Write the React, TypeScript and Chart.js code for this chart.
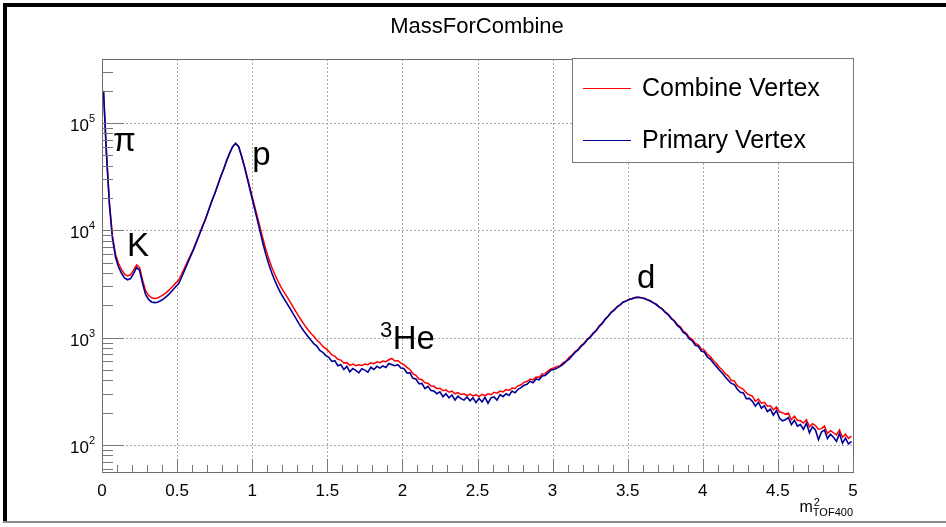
import React, { useEffect, useRef } from "react";
import { Chart, registerables } from "chart.js";

Chart.register(...registerables);

// ---------------- DATA ----------------
const BIN_WIDTH = 0.02; // bins from 0 to 5, values at bin centres
const X_MIN = 0;
const X_MAX = 5;
const Y_MIN = 56;
const Y_MAX = 394600;

const chartTitle = "MassForCombine";
const seriesNames = ["Combine Vertex", "Primary Vertex"];
const seriesColors = ["#ff0000", "#000099"];

// counts per 0.02 bin, m^2 from 0 to 5
const combineVertex = [
  196000, 52000, 17500, 8800, 6000, 4900, 4300, 3900, 3750, 3850,
  4250, 4750, 4500, 3450, 2750, 2480, 2350, 2320, 2340, 2420,
  2520, 2640, 2800, 3000, 3220, 3420, 3900, 4470, 5130, 5890,
  6760, 7940, 9330, 11000, 12900, 15500, 18600, 21900, 26300, 31600,
  37200, 44700, 52500, 60300, 64600, 60300, 49000, 38900, 30200, 23400,
  18200, 14100, 11000, 8500, 6700, 5450, 4550, 3900, 3400, 2990,
  2680, 2420, 2190, 1960, 1760, 1580, 1430, 1300, 1190, 1100,
  1030, 950, 895, 828, 790, 745, 690, 672, 628, 618,
  580, 585, 552, 566, 548, 560, 550, 568, 560, 582,
  572, 595, 584, 606, 598, 622, 640, 605, 612, 578,
  560, 528, 505, 462, 445, 412, 405, 380, 376, 355,
  352, 335, 338, 320, 326, 310, 318, 300, 308, 295,
  300, 288, 298, 286, 294, 282, 296, 288, 300, 294,
  310, 304, 318, 312, 328, 322, 340, 336, 356, 364,
  385, 390, 412, 404, 430, 428, 458, 462, 490, 515,
  522, 540, 548, 585, 605, 655, 688, 742, 780, 845,
  890, 965, 1020, 1105, 1170, 1285, 1365, 1495, 1590, 1730,
  1815, 1950, 2030, 2150, 2200, 2280, 2315, 2370, 2380, 2360,
  2330, 2260, 2210, 2120, 2050, 1940, 1860, 1735, 1650, 1525,
  1445, 1325, 1260, 1150, 1100, 1005, 965, 885, 858, 785,
  765, 700, 668, 612, 578, 530, 500, 462, 438, 400,
  395, 355, 342, 330, 305, 292, 285, 255, 268, 245,
  250, 230, 232, 212, 226, 204, 200, 194, 198, 172,
  185, 170, 168, 160, 172, 148, 158, 152, 140, 142,
  150, 128, 136, 130, 124, 138, 118, 126, 115, 121,
];

const primaryVertex = [
  200000, 50000, 17000, 8300, 5600, 4550, 3980, 3600, 3460, 3550,
  3950, 4500, 4250, 3200, 2530, 2270, 2150, 2120, 2140, 2210,
  2300, 2420, 2570, 2760, 2980, 3180, 3650, 4250, 4950, 5750,
  6650, 7850, 9250, 10900, 12800, 15400, 18500, 21800, 26200, 31500,
  37100, 44600, 52400, 60200, 64500, 60100, 48500, 38200, 29300, 22400,
  17200, 13200, 10100, 7700, 6000, 4850, 4020, 3420, 2960, 2600,
  2330, 2100, 1890, 1690, 1520, 1360, 1230, 1120, 1030, 950,
  880, 835, 760, 730, 680, 655, 600, 610, 548, 560,
  505, 540, 480, 515, 495, 470, 512, 498, 478, 530,
  505, 540, 520, 545, 528, 575, 560, 548, 560, 520,
  515, 470, 470, 418, 412, 372, 375, 335, 352, 322,
  318, 300, 312, 282, 300, 275, 292, 262, 285, 270,
  262, 280, 258, 275, 248, 272, 252, 278, 245, 275,
  280, 262, 295, 282, 300, 290, 318, 306, 330, 342,
  360, 368, 392, 380, 412, 405, 440, 445, 470, 500,
  505, 520, 540, 565, 600, 630, 680, 728, 770, 830,
  880, 950, 1010, 1090, 1160, 1270, 1350, 1480, 1580, 1715,
  1800, 1935, 2020, 2140, 2190, 2270, 2305, 2360, 2375, 2350,
  2320, 2250, 2195, 2110, 2035, 1925, 1845, 1720, 1630, 1505,
  1425, 1300, 1235, 1120, 1075, 975, 935, 850, 830, 750,
  735, 660, 630, 580, 540, 500, 465, 430, 400, 375,
  365, 330, 310, 305, 270, 272, 255, 230, 250, 220,
  232, 205, 215, 190, 210, 178, 168, 172, 180, 155,
  170, 150, 155, 140, 160, 130, 148, 138, 112, 132,
  138, 115, 126, 118, 108, 128, 104, 116, 102, 108,
];

const xMajorTicks = [0, 0.5, 1, 1.5, 2, 2.5, 3, 3.5, 4, 4.5, 5];
const xTickLabels = ["0", "0.5", "1", "1.5", "2", "2.5", "3", "3.5", "4", "4.5", "5"];
const yDecades = [2, 3, 4, 5];

// peak labels (baseline position in data units)
const peakLabels = [
  { text: "\u03c0", pre: "", x: 0.073, y: 54800 },
  { text: "K", pre: "", x: 0.166, y: 5770 },
  { text: "p", pre: "", x: 1.0, y: 40600 },
  { text: "He", pre: "3", x: 1.851, y: 783 },
  { text: "d", pre: "", x: 3.562, y: 2904 },
];

// ---------------- HELPERS ----------------
function toPoints(vals: number[]) {
  return vals.map((v, i) => ({ x: +((i + 0.5) * BIN_WIDTH).toFixed(4), y: v }));
}

const FONT = "'Liberation Sans', Arial, Helvetica, sans-serif";

const rootPlugin = {
  id: "rootStyle",
  beforeDatasetsDraw(chart: any) {
    const { ctx, chartArea: a, scales } = chart;
    const xs = scales.x;
    const ys = scales.y;
    ctx.save();
    ctx.strokeStyle = "#a8a8a8";
    ctx.lineWidth = 1;
    ctx.setLineDash([2, 2]);
    xMajorTicks.forEach((t) => {
      if (t <= X_MIN || t >= X_MAX) return;
      const px = Math.round(xs.getPixelForValue(t)) + 0.5;
      ctx.beginPath();
      ctx.moveTo(px, a.top);
      ctx.lineTo(px, a.bottom);
      ctx.stroke();
    });
    yDecades.forEach((d) => {
      const py = Math.round(ys.getPixelForValue(Math.pow(10, d))) + 0.5;
      ctx.beginPath();
      ctx.moveTo(a.left, py);
      ctx.lineTo(a.right, py);
      ctx.stroke();
    });
    ctx.restore();
  },
  afterDatasetsDraw(chart: any) {
    const { ctx, chartArea: a, scales } = chart;
    const xs = scales.x;
    const ys = scales.y;
    ctx.save();
    ctx.setLineDash([]);

    // frame
    ctx.strokeStyle = "#6e6e6e";
    ctx.lineWidth = 1;
    ctx.strokeRect(Math.round(a.left) + 0.5, Math.round(a.top) + 0.5, Math.round(a.right - a.left), Math.round(a.bottom - a.top));

    // y ticks
    ctx.strokeStyle = "#777";
    for (let d = 1; d <= 5; d++) {
      for (let m = 1; m <= 9; m++) {
        const v = m * Math.pow(10, d);
        if (v < Y_MIN || v > Y_MAX) continue;
        const py = Math.round(ys.getPixelForValue(v)) + 0.5;
        const len = m === 1 ? 22 : 11;
        ctx.beginPath();
        ctx.moveTo(a.left, py);
        ctx.lineTo(a.left + len, py);
        ctx.stroke();
      }
    }
    // x ticks
    for (let i = 0; i <= 50; i++) {
      const v = i * 0.1;
      const px = Math.round(xs.getPixelForValue(v)) + 0.5;
      const len = i % 5 === 0 ? 13 : 7;
      ctx.beginPath();
      ctx.moveTo(px, a.bottom);
      ctx.lineTo(px, a.bottom - len);
      ctx.stroke();
    }

    // x tick labels
    ctx.fillStyle = "#000";
    ctx.font = `17px ${FONT}`;
    ctx.textAlign = "center";
    ctx.textBaseline = "alphabetic";
    xMajorTicks.forEach((t, i) => {
      ctx.fillText(xTickLabels[i], xs.getPixelForValue(t), a.bottom + 24);
    });

    // y tick labels 10^n
    yDecades.forEach((d) => {
      const py = ys.getPixelForValue(Math.pow(10, d));
      ctx.font = `11px ${FONT}`;
      const supW = ctx.measureText(String(d)).width;
      ctx.textAlign = "right";
      ctx.fillText(String(d), 95, py - 1);
      ctx.font = `17px ${FONT}`;
      ctx.fillText("10", 95 - supW, py + 8);
    });

    // x axis title m^2_TOF400
    const tx = a.right;
    const ty = a.bottom + 40;
    ctx.textAlign = "right";
    ctx.font = `11px ${FONT}`;
    const subW = ctx.measureText("TOF400").width;
    ctx.fillText("TOF400", tx, ty + 4);
    ctx.fillText("2", tx - subW + 7, ty - 6);
    ctx.font = `16px ${FONT}`;
    ctx.fillText("m", tx - subW, ty);

    // title
    ctx.textAlign = "center";
    ctx.textBaseline = "middle";
    ctx.font = `22px ${FONT}`;
    ctx.fillText(chartTitle, 477, 27);

    // peak labels
    ctx.textAlign = "left";
    ctx.textBaseline = "alphabetic";
    peakLabels.forEach((p) => {
      let px = xs.getPixelForValue(p.x);
      const py = ys.getPixelForValue(p.y);
      if (p.pre) {
        ctx.font = `22px ${FONT}`;
        ctx.fillText(p.pre, px, py - 12);
        px += ctx.measureText(p.pre).width + 0.5;
      }
      ctx.font = `33px ${FONT}`;
      ctx.fillText(p.text, px, py);
    });

    // legend
    const lx = 572, ly = 58, lw = 281, lh = 104;
    ctx.fillStyle = "#fff";
    ctx.fillRect(lx, ly, lw, lh);
    ctx.strokeStyle = "#777";
    ctx.lineWidth = 1;
    ctx.strokeRect(lx + 0.5, ly + 0.5, lw, lh);
    const rows = [88, 140];
    seriesNames.forEach((name, i) => {
      ctx.strokeStyle = seriesColors[i];
      ctx.lineWidth = 1.2;
      ctx.beginPath();
      ctx.moveTo(583, rows[i] + 0.5);
      ctx.lineTo(631, rows[i] + 0.5);
      ctx.stroke();
      ctx.fillStyle = "#000";
      ctx.font = `25px ${FONT}`;
      ctx.textBaseline = "middle";
      ctx.fillText(name, 642, rows[i] + 1);
    });

    // canvas border (ROOT bevel)
    ctx.fillStyle = "#000";
    ctx.fillRect(3, 3, 943, 4);
    ctx.fillRect(3, 3, 4, 520);
    ctx.fillStyle = "#8a8a8a";
    ctx.fillRect(3, 521, 943, 2);

    ctx.restore();
  },
};

export default function App() {
  const ref = useRef<HTMLCanvasElement | null>(null);
  useEffect(() => {
    document.body.style.margin = "0";
    const canvas = ref.current;
    if (!canvas) return;
    const chart = new Chart(canvas, {
      type: "line",
      data: {
        datasets: [
          {
            label: seriesNames[0],
            data: toPoints(combineVertex),
            borderColor: seriesColors[0],
            borderWidth: 1.5,
            pointRadius: 0,
            tension: 0,
            fill: false,
            order: 2,
          },
          {
            label: seriesNames[1],
            data: toPoints(primaryVertex),
            borderColor: seriesColors[1],
            borderWidth: 1.6,
            pointRadius: 0,
            tension: 0,
            fill: false,
            order: 1,
          },
        ],
      },
      options: {
        responsive: false,
        animation: false,
        devicePixelRatio: 1,
        layout: { padding: { left: 102, top: 59, right: 93, bottom: 55 } },
        plugins: { legend: { display: false }, tooltip: { enabled: false }, title: { display: false } },
        scales: {
          x: { type: "linear", min: X_MIN, max: X_MAX, display: false },
          y: { type: "logarithmic", min: Y_MIN, max: Y_MAX, display: false },
        },
      },
      plugins: [rootPlugin],
    });
    return () => chart.destroy();
  }, []);
  return (
    <div style={{ position: "fixed", left: 0, top: 0, width: 946, height: 527, background: "#fff" }}>
      <canvas ref={ref} width={946} height={527} style={{ display: "block" }} />
    </div>
  );
}
